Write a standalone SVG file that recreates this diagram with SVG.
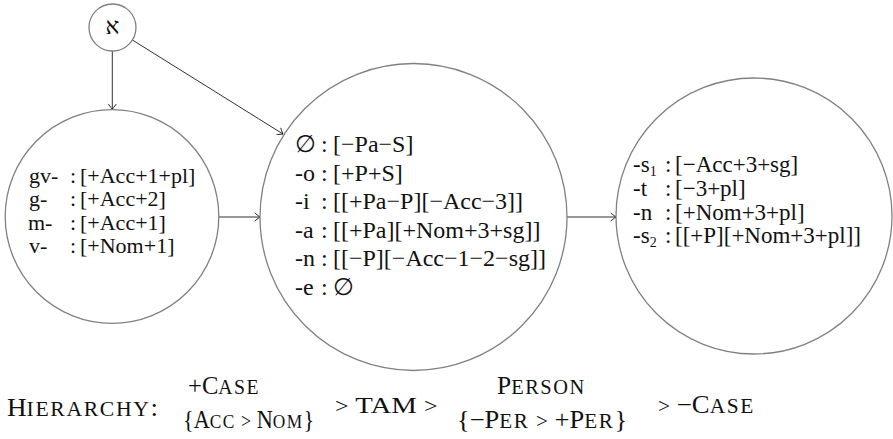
<svg xmlns="http://www.w3.org/2000/svg" width="893" height="439" viewBox="0 0 893 439">
  <style>
    .node { fill: #ffffff; stroke: #808080; stroke-width: 1.3; }
    .edge { fill: none; stroke: #1a1a1a; stroke-width: 0.9; }
    .tip { fill: none; stroke: #1a1a1a; stroke-width: 0.9; stroke-linecap: round; stroke-linejoin: round; }
    text { font-family: "Liberation Serif", "DejaVu Serif", serif; fill: #111111; }
    .s22 { font-size: 22px; }
    .s23 { font-size: 23px; }
    .s24 { font-size: 24px; }
    .s25 { font-size: 25px; }
    .sc { font-size: 20px; letter-spacing: 1.5px; }
    .sc19 { font-size: 19.5px; letter-spacing: 1.5px; }
    .gt { font-size: 20px; }
    .sub { font-size: 14px; }
  </style>
  <defs>
    <marker id="to" viewBox="-6 -5 7 10" refX="0" refY="0" markerWidth="7" markerHeight="10" markerUnits="userSpaceOnUse" orient="auto">
      <path class="tip" d="M -5 -3.8 Q -1.2 -0.8 0 0 Q -1.2 0.8 -5 3.8"/>
    </marker>
  </defs>

  <rect width="893" height="439" fill="#ffffff"/>

  <!-- connectors -->
  <g id="connectors">
    <line class="edge" x1="112.3" y1="51" x2="112.3" y2="109.3" marker-end="url(#to)"/>
    <line class="edge" x1="132.4" y1="40" x2="283" y2="134" marker-end="url(#to)"/>
    <line class="edge" x1="219" y1="217" x2="260" y2="217" marker-end="url(#to)"/>
    <line class="edge" x1="567" y1="217" x2="616" y2="217" marker-end="url(#to)"/>
  </g>

  <!-- root node -->
  <g id="node-aleph">
    <circle class="node" cx="112.5" cy="27.5" r="23.5"/>
    <text class="s23" x="112.5" y="34" text-anchor="middle">א</text>
  </g>

  <!-- prefix slot -->
  <g id="node-prefixes">
    <circle class="node" cx="112" cy="216.5" r="106.8"/>
    <text class="s22">
      <tspan x="29" y="183">gv-</tspan><tspan x="70" y="183">:</tspan><tspan x="80" y="183">[+Acc+1+pl]</tspan>
      <tspan x="29" y="206.3">g-</tspan><tspan x="70" y="206.3">:</tspan><tspan x="80" y="206.3">[+Acc+2]</tspan>
      <tspan x="28" y="229.6">m-</tspan><tspan x="70" y="229.6">:</tspan><tspan x="80" y="229.6">[+Acc+1]</tspan>
      <tspan x="29" y="253">v-</tspan><tspan x="70" y="253">:</tspan><tspan x="80" y="253">[+Nom+1]</tspan>
    </text>
  </g>

  <!-- first suffix slot -->
  <g id="node-suffixes-a">
    <circle class="node" cx="413.5" cy="217" r="153.5"/>
    <text class="s24">
      <tspan x="295" y="152">∅</tspan><tspan x="321" y="152">:</tspan><tspan x="333" y="152">[−Pa−S]</tspan>
      <tspan x="295" y="180.5">-o</tspan><tspan x="321" y="180.5">:</tspan><tspan x="333" y="180.5">[+P+S]</tspan>
      <tspan x="295" y="209">-i</tspan><tspan x="321" y="209">:</tspan><tspan x="333" y="209">[[+Pa−P][−Acc−3]]</tspan>
      <tspan x="295" y="237.5">-a</tspan><tspan x="321" y="237.5">:</tspan><tspan x="333" y="237.5">[[+Pa][+Nom+3+sg]]</tspan>
      <tspan x="295" y="266">-n</tspan><tspan x="321" y="266">:</tspan><tspan x="333" y="266">[[−P][−Acc−1−2−sg]]</tspan>
      <tspan x="295" y="294.5">-e</tspan><tspan x="321" y="294.5">:</tspan><tspan x="333" y="294.5">∅</tspan>
    </text>
  </g>

  <!-- second suffix slot -->
  <g id="node-suffixes-b">
    <circle class="node" cx="754" cy="216" r="138"/>
    <text class="s23">
      <tspan x="633" y="172">-s</tspan><tspan class="sub" y="176">1</tspan><tspan x="665" y="172">:</tspan><tspan x="675" y="172">[−Acc+3+sg]</tspan>
      <tspan x="633" y="195.8">-t</tspan><tspan x="665" y="195.8">:</tspan><tspan x="675" y="195.8">[−3+pl]</tspan>
      <tspan x="633" y="219.6">-n</tspan><tspan x="665" y="219.6">:</tspan><tspan x="675" y="219.6">[+Nom+3+pl]</tspan>
      <tspan x="633" y="243.4">-s</tspan><tspan class="sub" y="247.4">2</tspan><tspan x="665" y="243.4">:</tspan><tspan x="675" y="243.4">[[+P][+Nom+3+pl]]</tspan>
    </text>
  </g>

  <!-- hierarchy line: small caps set wide, each piece stretched horizontally -->
  <g id="hierarchy">
    <text class="s25" transform="translate(7,416) scale(1.085,1)">H<tspan class="sc">IERARCHY</tspan>:</text>
    <text class="s25" transform="translate(188,394) scale(0.985,1)">+C<tspan class="sc">ASE</tspan></text>
    <text class="s25" transform="translate(183,428) scale(0.89,1)">{A<tspan class="sc19">CC</tspan> <tspan class="gt">&gt;</tspan> N<tspan class="sc19">OM</tspan>}</text>
    <text class="s24" transform="translate(335,413) scale(1.2,1)"><tspan class="gt">&gt;</tspan> TAM <tspan class="gt">&gt;</tspan></text>
    <text class="s25" transform="translate(497,394) scale(1.02,1)">P<tspan class="sc">ERSON</tspan></text>
    <text class="s25" transform="translate(457,428) scale(1.057,1)">{−P<tspan class="sc">ER</tspan> <tspan class="gt">&gt;</tspan> +P<tspan class="sc">ER</tspan>}</text>
    <text class="s25" transform="translate(658,413) scale(1.07,1)"><tspan class="gt">&gt;</tspan> −C<tspan class="sc">ASE</tspan></text>
  </g>
</svg>
